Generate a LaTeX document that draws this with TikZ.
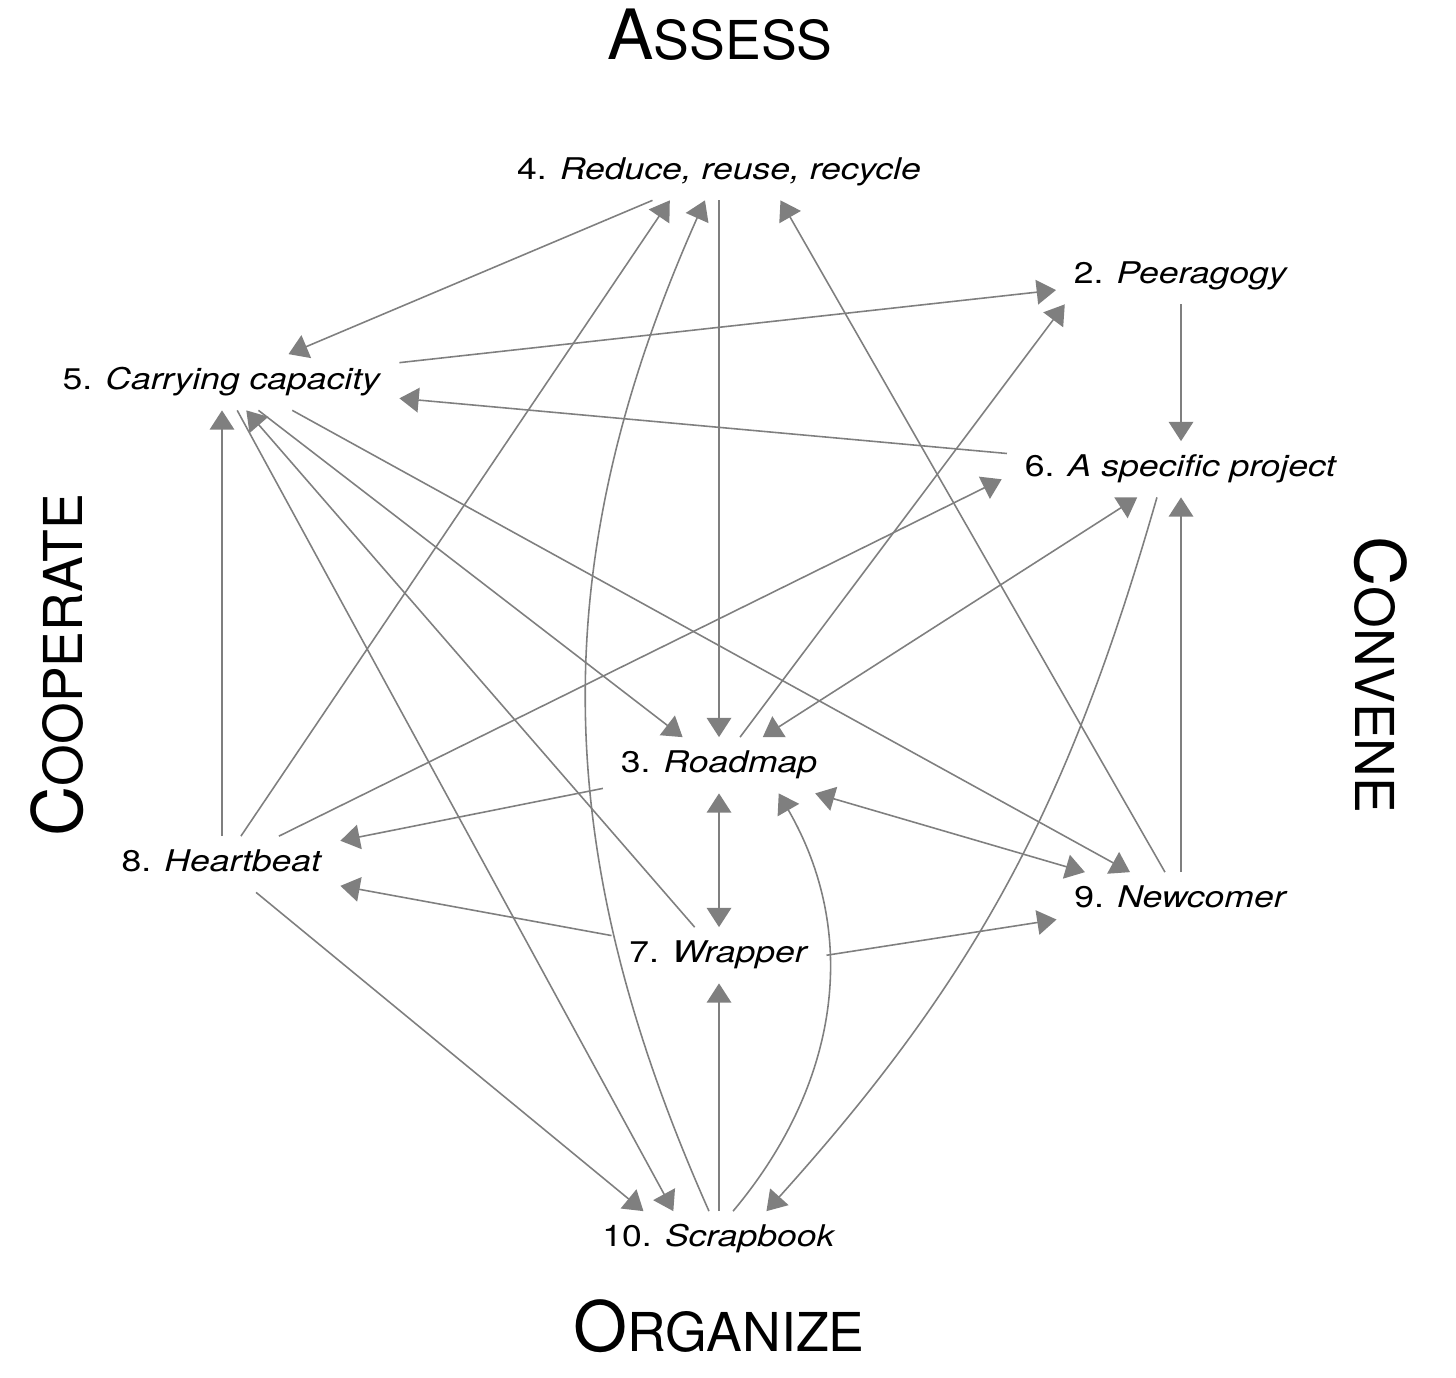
\documentclass[tikz,border=0pt]{standalone}
\usepackage{fontspec}
\setmainfont{TeX Gyre Heros}
\newfontfamily\topicfont[FakeStretch=1.19]{TeX Gyre Heros}
\usetikzlibrary{arrows.meta}
\definecolor{wire}{HTML}{7F7F7F}
\tikzset{
  link/.style={draw=wire, line width=0.9pt, -{Triangle[length=11pt,width=14pt]}},
  twoway/.style={link, {Triangle[length=11pt,width=14pt]}-{Triangle[length=11pt,width=14pt]}},
  topic/.style={
    anchor=base,
    font=\topicfont\fontsize{17}{20}\selectfont,
    text height=12.2pt,
    text depth=3.4pt,
    inner xsep=10pt,
    inner ysep=8pt
  },
  phase/.style={anchor=base, font=\fontsize{39.5}{42}\selectfont, inner sep=0pt}
}
\newcommand{\phasename}[2]{#1{\fontsize{30.5}{32}\selectfont #2}}

\begin{document}
\begin{tikzpicture}[x=0.02cm,y=0.02cm]
\path[use as bounding box] (0,0) rectangle (1456,1378);

\node[phase] (assess) at (720,1318) {\phasename{A}{SSESS}};
\node[phase, rotate=90] (cooperate) at (82,713) {\phasename{C}{OOPERATE}};
\node[phase, rotate=-90] (convene) at (1355,703) {\phasename{C}{ONVENE}};
\node[phase] (organize) at (719,26) {\phasename{O}{RGANIZE}};

\node[topic] (reduce) at (719,1198) {4. \textit{Reduce, reuse, recycle}};
\node[topic] (peer) at (1181,1094) {2. \textit{Peeragogy}};
\node[topic] (carry) at (222,988) {5. \textit{Carrying capacity}};
\node[topic] (proj) at (1181,901) {6. \textit{A specific project}};
\node[topic] (road) at (719,605) {3. \textit{Roadmap}};
\node[topic] (heart) at (222,506) {8. \textit{Heartbeat}};
\node[topic] (newcomer) at (1181,470) {9. \textit{Newcomer}};
\node[topic] (wrap) at (719,415) {7. \textit{Wrapper}};
\node[topic] (scrap) at (719,131) {10. \textit{Scrapbook}};

\draw[link] (reduce) -- (carry);
\draw[link] (reduce) -- (road);
\draw[link] (heart) -- ([xshift=-28pt]reduce.south);
\draw[link] (newcomer) -- ([xshift=35pt]reduce.south);
\draw[link] (carry) -- (peer);
\draw[link] (road) -- ([xshift=5pt]peer.south west);
\draw[link] (peer) -- (proj);
\draw[link] (proj) -- (carry);
\draw[link] (heart) -- ([xshift=-3pt,yshift=-5.7pt]proj.west);
\draw[twoway] (proj) -- (road);
\draw[link] (newcomer) -- (proj);
\draw[link] (carry) -- (road);
\draw[link] ([xshift=40pt]carry.south) -- (newcomer);
\draw[link] (carry) -- ([xshift=-26pt]scrap.north);
\draw[link] (wrap) -- (carry);
\draw[link] (heart) -- (carry);
\draw[link] (road) -- (heart);
\draw[link] (wrap) -- (heart);
\draw[twoway] (road) -- (wrap);
\draw[twoway] (road) -- (newcomer);
\draw[link] (wrap.east) -- (newcomer);
\draw[link] (scrap) -- (wrap);
\draw[link] (heart) -- ([xshift=-43pt]scrap.north);

% curved links from and to the scrapbook
\draw[link] ([xshift=-5.7pt]scrap.north) to[out=114,in=-114] ([xshift=-8pt]reduce.south);
\draw[link] ([xshift=8pt]scrap.north) to[out=50,in=-60] ([xshift=34pt]road.south);
\draw[link] ([xshift=-13.7pt]proj.south) to[out=-106,in=48] ([xshift=27pt]scrap.north);
\end{tikzpicture}
\end{document}
